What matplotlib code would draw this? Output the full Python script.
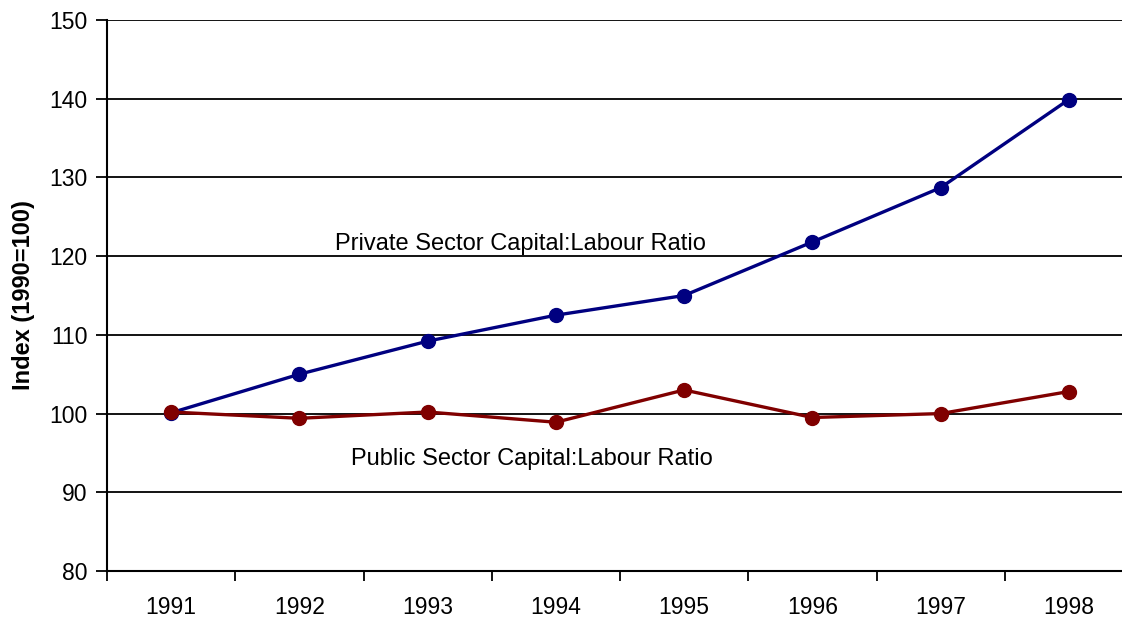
import numpy as np
import matplotlib.pyplot as plt
from matplotlib.ticker import FixedLocator

plt.rcParams['font.family'] = ['Liberation Sans', 'DejaVu Sans']

years = ['1991', '1992', '1993', '1994', '1995', '1996', '1997', '1998']
private_ratio = [100.1, 105.0, 109.2, 112.5, 115.0, 121.8, 128.7, 139.9]
public_ratio = [100.2, 99.4, 100.2, 98.9, 103.0, 99.5, 100.0, 102.8]

x = np.arange(len(years))

fig = plt.figure(figsize=(11.22, 6.17), dpi=100)
# plot area runs a little past the right edge of the figure
ax = fig.add_axes([107 / 1122, 46 / 617, 1026 / 1122, 551 / 617])

ax.plot(x, private_ratio, color='#000080', lw=2.4, marker='o', ms=10, zorder=3)
ax.plot(x, public_ratio, color='#800000', lw=2.4, marker='o', ms=10, zorder=3)

ax.set_xlim(-0.5, len(years) - 0.5)
ax.set_ylim(80, 150)
ax.set_yticks(np.arange(80, 151, 10))
ax.yaxis.grid(True, color='black', lw=1.3)
ax.set_axisbelow(True)

ax.set_xticks(x)
ax.set_xticklabels(years)
ax.xaxis.set_minor_locator(FixedLocator(np.arange(-0.5, len(years), 1.0)))
ax.tick_params(axis='x', which='major', length=0, pad=18, labelsize=16.5)
ax.tick_params(axis='x', which='minor', length=7, width=1.3, direction='out')
ax.tick_params(axis='y', length=8, width=1.3, pad=6, labelsize=16.5)

for side in ['top', 'right']:
    ax.spines[side].set_visible(False)
for side in ['left', 'bottom']:
    ax.spines[side].set_linewidth(1.5)

ax.set_ylabel('Index (1990=100)', fontsize=17, fontweight='bold', labelpad=10)

ax.text(2.72, 121.5, 'Private Sector Capital:Labour Ratio', fontsize=17,
        ha='center', va='center')
ax.text(2.81, 94.2, 'Public Sector Capital:Labour Ratio', fontsize=17,
        ha='center', va='center')

fig.savefig('out.png', dpi=100)
